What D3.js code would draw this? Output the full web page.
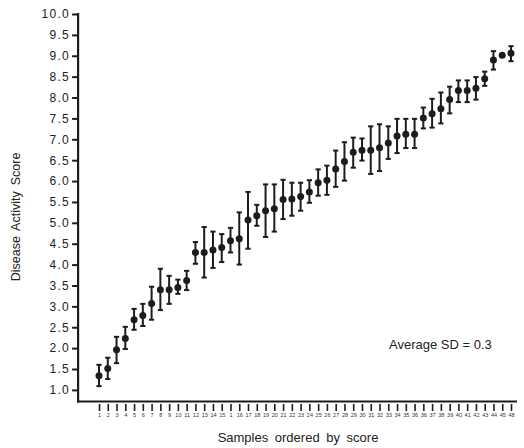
<!DOCTYPE html>
<html>
<head>
<meta charset="utf-8">
<script src="https://cdn.jsdelivr.net/npm/d3@7"></script>
<style>
  html, body { margin: 0; padding: 0; background: #fff; }
  svg { display: block; font-family: "Liberation Sans", Arial, Helvetica, sans-serif; }
</style>
</head>
<body>
<svg id="chart" width="524" height="448"></svg>
<script>
// Per-sample disease activity scores (mean with lower / upper SD bounds), ordered by score
const sampleLabels = [
  "1","2","3","4","5","6","7","8","9","10","11","12","13","14","15","1",
  "16","17","18","19","20","21","22","23","24","25","26","27","28","29","30",
  "31","32","33","34","35","36","36","37","38","39","40","41","42","43","44","45","48"
];
const meanScore = [
  1.34, 1.51, 1.96, 2.23, 2.68, 2.78, 3.07, 3.40, 3.40, 3.45, 3.62, 4.29,
  4.29, 4.35, 4.41, 4.57, 4.62, 5.07, 5.17, 5.29, 5.34, 5.56, 5.57, 5.63,
  5.74, 5.96, 6.02, 6.29, 6.47, 6.69, 6.74, 6.74, 6.80, 6.91, 7.08, 7.12,
  7.12, 7.51, 7.61, 7.73, 7.95, 8.17, 8.17, 8.22, 8.45, 8.90, 9.01, 9.06
];
const lowerScore = [
  1.09, 1.26, 1.64, 1.98, 2.44, 2.53, 2.68, 2.91, 3.06, 3.30, 3.39, 4.02,
  3.69, 3.92, 4.06, 4.29, 4.00, 4.38, 4.93, 4.66, 4.79, 5.09, 5.17, 5.29,
  5.48, 5.65, 5.67, 5.86, 6.01, 6.32, 6.49, 6.17, 6.24, 6.53, 6.67, 6.79,
  6.79, 7.26, 7.28, 7.38, 7.62, 7.89, 7.89, 7.95, 8.28, 8.67, 8.99, 8.87
];
const upperScore = [
  1.60, 1.77, 2.27, 2.51, 2.94, 3.06, 3.47, 3.90, 3.73, 3.64, 3.85, 4.54,
  4.90, 4.79, 4.73, 4.88, 5.25, 5.74, 5.43, 5.92, 5.92, 6.03, 5.96, 5.96,
  6.02, 6.28, 6.37, 6.73, 6.93, 7.04, 7.02, 7.31, 7.36, 7.31, 7.49, 7.49,
  7.49, 7.76, 7.97, 8.12, 8.26, 8.41, 8.41, 8.49, 8.62, 9.11, 9.03, 9.23
];
const yTickValues = [1.0,1.5,2.0,2.5,3.0,3.5,4.0,4.5,5.0,5.5,6.0,6.5,7.0,7.5,8.0,8.5,9.0,9.5,10.0];
const annotation = "Average SD = 0.3";

const ink = "#1c1c1c";
const svg = d3.select("#chart");

const samples = meanScore.map((m, i) => ({
  idx: i + 1, label: sampleLabels[i], mean: m, lo: lowerScore[i], hi: upperScore[i]
}));

// Scales
const x = d3.scaleLinear().domain([1, 48]).range([99, 511]);
const y = d3.scaleLinear().domain([0.71, 10]).range([402, 14]);
const xStart = x(-1.5), xEnd = x(48.68);

// Y axis
const yAxis = svg.append("g")
  .attr("transform", `translate(${xStart + 1},0)`)
  .call(d3.axisLeft(y).tickValues(yTickValues).tickFormat(d3.format(".1f"))
    .tickSize(6).tickPadding(2).tickSizeOuter(0));
yAxis.select(".domain").remove();
yAxis.selectAll(".tick line").attr("stroke", ink).attr("stroke-width", 2);
yAxis.selectAll(".tick text")
  .attr("fill", "#222").style("font-size", "12px").style("letter-spacing", "1.3px");

// X axis ticks and labels
const xAxis = svg.append("g")
  .attr("transform", `translate(0,${y(0.71) + 2})`)
  .call(d3.axisBottom(x).tickValues(samples.map(d => d.idx))
    .tickFormat((d, i) => sampleLabels[i]).tickSize(7).tickPadding(2).tickSizeOuter(0));
xAxis.select(".domain").remove();
xAxis.selectAll(".tick line").attr("stroke", ink).attr("stroke-width", 1.6);
xAxis.selectAll(".tick text").attr("fill", "#333").style("font-size", "5.5px");

// Axis lines
svg.append("line")
  .attr("x1", xStart + 1).attr("x2", xStart + 1)
  .attr("y1", y(10) - 1).attr("y2", y(0.71) + 0.5)
  .attr("stroke", ink).attr("stroke-width", 2.2);
svg.append("line")
  .attr("x1", xStart).attr("x2", xEnd)
  .attr("y1", y(0.71) - 0.5).attr("y2", y(0.71) - 0.5)
  .attr("stroke", ink).attr("stroke-width", 2.2);

// Error bars
const bars = svg.append("g").attr("stroke", ink).attr("stroke-width", 2);
bars.selectAll("line.v").data(samples).join("line").attr("class", "v")
  .attr("x1", d => x(d.idx)).attr("x2", d => x(d.idx))
  .attr("y1", d => y(d.hi)).attr("y2", d => y(d.lo));
bars.selectAll("line.top").data(samples).join("line").attr("class", "top")
  .attr("x1", d => x(d.idx) - 2.6).attr("x2", d => x(d.idx) + 2.6)
  .attr("y1", d => y(d.hi)).attr("y2", d => y(d.hi));
bars.selectAll("line.bot").data(samples).join("line").attr("class", "bot")
  .attr("x1", d => x(d.idx) - 2.6).attr("x2", d => x(d.idx) + 2.6)
  .attr("y1", d => y(d.lo)).attr("y2", d => y(d.lo));

// Mean points
svg.append("g").selectAll("circle").data(samples).join("circle")
  .attr("cx", d => x(d.idx)).attr("cy", d => y(d.mean)).attr("r", 3.5)
  .attr("fill", ink);

// Titles
svg.append("text")
  .attr("transform", `translate(20,${(y(10) + y(0.71)) / 2 + 9}) rotate(-90)`)
  .attr("text-anchor", "middle").attr("fill", "#222")
  .style("font-size", "12.5px").style("word-spacing", "2.5px")
  .text("Disease Activity Score");
svg.append("text")
  .attr("x", 298).attr("y", 442)
  .attr("text-anchor", "middle").attr("fill", "#222")
  .style("font-size", "13px").style("word-spacing", "3px")
  .text("Samples ordered by score");

// Annotation
svg.append("text")
  .attr("x", 389).attr("y", 349)
  .attr("fill", "#222").style("font-size", "13px")
  .text(annotation);
</script>
</body>
</html>
